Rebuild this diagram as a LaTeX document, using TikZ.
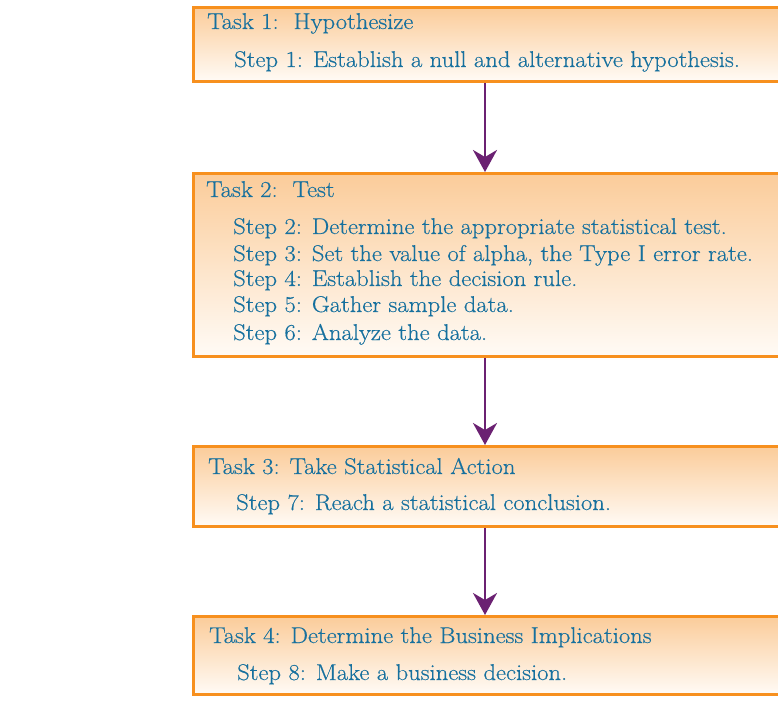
\documentclass[tikz,border=0pt]{standalone}
\usepackage{fontspec}
\setmainfont{Latin Modern Roman}[FakeStretch=1.08, FakeBold=0.4]
\usetikzlibrary{arrows.meta}
\definecolor{boxorange}{HTML}{F7901E}
\definecolor{boxtop}{HTML}{FBCC9A}
\definecolor{boxbot}{HTML}{FFFBF6}
\definecolor{txtblue}{HTML}{16709E}
\definecolor{arrpurple}{HTML}{6B2172}
\tikzset{
  box/.style={draw=boxorange, line width=3pt, top color=boxtop, bottom color=boxbot,
    rectangle, inner sep=0pt, minimum width=620pt, anchor=north west},
  tasktxt/.style={anchor=base west, inner sep=0pt, text=txtblue, font=\fontsize{22.8}{26}\selectfont},
  arr/.style={draw=arrpurple, line width=2.6pt, -{Stealth[length=22pt,width=24pt,inset=7pt]}}
}
\begin{document}
\begin{tikzpicture}[x=1pt,y=-1pt]
\clip (0,0) rectangle (778,708);
\fill[white] (0,0) rectangle (778,708);
% boxes
\node[box, minimum height=74pt] (b1) at (192,6) {};
\node[box, minimum height=183pt] (b2) at (192,172) {};
\node[box, minimum height=80pt] (b3) at (192,445) {};
\node[box, minimum height=78pt] (b4) at (192,615) {};
% arrow x position
\coordinate (ax) at (485,0);
\draw[arr] (b1.south -| ax) -- (b2.north -| ax);
\draw[arr] (b2.south -| ax) -- (b3.north -| ax);
\draw[arr] (b3.south -| ax) -- (b4.north -| ax);
% texts
\node[tasktxt] (t1) at (207,29) {Task 1:\ \ Hypothesize};
\node[tasktxt] (s1) at (234,67) {Step 1: Establish a null and alternative hypothesis.};
\node[tasktxt] (t2) at (206,197) {Task 2:\ \ Test};
\node[tasktxt] (s2) at (233,234) {Step 2: Determine the appropriate statistical test.};
\node[tasktxt] (s3) at (233,261) {Step 3: Set the value of alpha, the Type I error rate.};
\node[tasktxt] (s4) at (233,286) {Step 4: Establish the decision rule.};
\node[tasktxt] (s5) at (233,312) {Step 5: Gather sample data.};
\node[tasktxt] (s6) at (233,340) {Step 6: Analyze the data.};
\node[tasktxt] (t3) at (208,474) {Task 3: Take Statistical Action};
\node[tasktxt] (s7) at (236,510) {Step 7: Reach a statistical conclusion.};
\node[tasktxt] (t4) at (209,643) {Task 4: Determine the Business Implications};
\node[tasktxt] (s8) at (237,680) {Step 8: Make a business decision.};
\end{tikzpicture}
\end{document}
